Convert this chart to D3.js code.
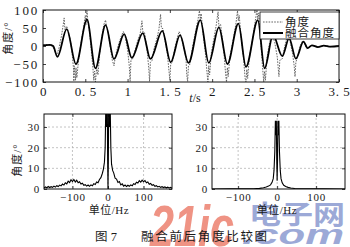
<!DOCTYPE html>
<html>
<head>
<meta charset="utf-8">
<script src="https://cdn.jsdelivr.net/npm/d3@7"></script>
<style>
html, body { margin: 0; padding: 0; background: #fff; }
svg { display: block; }
text { font-family: "Liberation Serif", "Noto Sans CJK SC", serif; fill: #1a1a1a; }
</style>
</head>
<body>
<div id="chart"></div>
<script>
// raw angle (dotted) and fused angle (solid), [t (s), deg]
const fusedAngle = [
    [0, 2], [0.08, 3], [0.12, 0], [0.17, -30], [0.28, 47], [0.39, -50], [0.52, 73],
    [0.62, -62], [0.74, 58], [0.84, -36], [0.96, 33], [1.05, -33], [1.18, 36],
    [1.27, -36], [1.41, 42], [1.51, -45], [1.62, 30], [1.72, -47], [1.86, 72],
    [1.96, -47], [2.08, 52], [2.18, -50], [2.31, 62], [2.40, -58], [2.54, 72],
    [2.62, -62], [2.72, 30], [2.83, -28], [2.91, 22], [2.99, -35], [3.08, 12],
    [3.13, -6], [3.18, 2], [3.25, -3], [3.32, 1], [3.40, -2], [3.50, 0]
];

const rawAngle = [
    [0, 3], [0.05, 4], [0.10, 1], [0.13, -8], [0.16, -28], [0.17, -20], [0.19, -5],
    [0.22, 30], [0.24, 60], [0.25, 78], [0.26, 45], [0.28, 55], [0.30, 40], [0.32, 20],
    [0.34, -10], [0.36, -60], [0.365, -98], [0.37, -55], [0.385, -95], [0.39, -60], [0.40, -88], [0.42, -40],
    [0.45, 10], [0.48, 50], [0.50, 85], [0.51, 60], [0.52, 98], [0.53, 70], [0.55, 40],
    [0.57, -10], [0.59, -60], [0.60, -95], [0.61, -70], [0.62, -100], [0.635, -60], [0.65, -80], [0.67, -20],
    [0.70, 30], [0.72, 60], [0.74, 72], [0.75, 55], [0.77, 40],
    [0.80, -10], [0.82, -40], [0.84, -55], [0.85, -38], [0.87, -15],
    [0.90, 10], [0.93, 30], [0.95, 40], [0.97, 28],
    [1.00, -10], [1.02, -55], [1.03, -98], [1.04, -40], [1.06, -35], [1.09, -10],
    [1.12, 15], [1.15, 35], [1.17, 70], [1.18, 40], [1.20, 38],
    [1.23, -10], [1.25, -60], [1.26, -98], [1.27, -45], [1.29, -40], [1.31, -10],
    [1.34, 15], [1.37, 45], [1.39, 88], [1.40, 50], [1.42, 48], [1.44, 20],
    [1.47, -20], [1.49, -70], [1.50, -95], [1.51, -50], [1.53, -45], [1.56, -5],
    [1.59, 25], [1.61, 40], [1.63, 30], [1.66, 0],
    [1.69, -30], [1.70, -80], [1.71, -98], [1.72, -55], [1.74, -50], [1.77, 0],
    [1.80, 35], [1.83, 70], [1.85, 98], [1.86, 75], [1.87, 90], [1.89, 40],
    [1.92, -20], [1.94, -75], [1.95, -100], [1.96, -55], [1.97, -80], [1.99, -20],
    [2.02, 20], [2.05, 60], [2.07, 95], [2.08, 55], [2.10, 60], [2.12, 20],
    [2.14, -20], [2.16, -80], [2.17, -100], [2.18, -60], [2.19, -85], [2.21, -30],
    [2.25, 20], [2.28, 60], [2.30, 98], [2.31, 70], [2.32, 85], [2.34, 30],
    [2.37, -30], [2.39, -90], [2.40, -100], [2.41, -65], [2.42, -90], [2.44, -30],
    [2.48, 20], [2.51, 70], [2.53, 100], [2.54, 75], [2.55, 92], [2.57, 30],
    [2.59, -40], [2.61, -100], [2.62, -70], [2.63, -95], [2.65, -30],
    [2.68, 10], [2.71, 38], [2.72, 25], [2.74, 10],
    [2.77, -30], [2.79, -85], [2.80, -40], [2.83, -35], [2.85, -10],
    [2.88, 20], [2.90, 28], [2.92, 15],
    [2.95, -20], [2.97, -55], [2.98, -85], [2.99, -45], [3.01, -30],
    [3.04, 0], [3.07, 15], [3.09, 8],
    [3.12, -8], [3.15, -2], [3.18, 2], [3.25, -3], [3.32, 1], [3.40, -2], [3.50, 0]
];

// spectra, [Hz, deg]
const spectrumBefore = [
    [-180, 0.5], [-176, 1.0], [-172, 0.6], [-168, 1.2], [-164, 0.7], [-160, 1.1], [-156, 0.8],
    [-152, 1.4], [-148, 0.9], [-144, 1.6], [-140, 1.2], [-136, 1.9], [-132, 1.5], [-128, 2.4],
    [-124, 1.9], [-120, 3.0], [-116, 2.5], [-112, 3.8], [-108, 3.1], [-104, 4.5], [-100, 3.6],
    [-96, 4.6], [-92, 3.4], [-88, 4.2], [-84, 3.0], [-80, 3.5], [-76, 2.4], [-72, 2.8],
    [-68, 1.8], [-64, 2.1], [-60, 1.4], [-56, 1.9], [-52, 1.3], [-48, 2.0], [-44, 1.6],
    [-40, 2.6], [-36, 2.2], [-32, 3.4], [-28, 3.0], [-24, 4.6], [-20, 5.5], [-16, 7.5],
    [-13, 9.5], [-10, 13], [-8, 20], [-6, 42], [-4, 30], [-2, 42], [-1, 14], [0, 0],
    [1, 14], [2, 42], [4, 30], [6, 42], [8, 20], [10, 12], [13, 9], [16, 7.8], [20, 5.2],
    [24, 4.8], [28, 3.2], [32, 3.6], [36, 2.0], [40, 2.5], [44, 1.4], [48, 1.9], [52, 1.2],
    [56, 1.8], [60, 1.3], [64, 2.0], [68, 1.6], [72, 2.6], [76, 2.2], [80, 3.3], [84, 2.9],
    [88, 4.0], [92, 3.3], [96, 4.3], [100, 3.5], [104, 4.1], [108, 3.0], [112, 3.4],
    [116, 2.3], [120, 2.7], [124, 1.8], [128, 2.1], [132, 1.3], [136, 1.6], [140, 1.0],
    [144, 1.3], [148, 0.8], [152, 1.1], [156, 0.7], [160, 1.0], [164, 0.6], [168, 0.9],
    [172, 0.5], [176, 0.8], [180, 0.4]
];

const spectrumAfter = [
    [-167, 0], [-120, 0.05], [-80, 0.1], [-60, 0.15], [-45, 0.3], [-35, 0.6], [-28, 1.0],
    [-22, 1.4], [-17, 2.0], [-13, 3.2], [-10, 5], [-8, 9], [-6, 18], [-4.5, 33], [-3, 26],
    [-2, 33], [-1, 14], [0, 4], [1, 14], [2, 33], [3, 26], [4.5, 33], [6, 18], [8, 9],
    [10, 5], [13, 3.0], [17, 1.8], [22, 1.2], [28, 0.8], [35, 0.5], [45, 0.25], [60, 0.1],
    [80, 0.08], [120, 0.04], [174, 0]
];

const topXTicks = [0, 0.5, 1, 1.5, 2, 2.5, 3, 3.5];
const topXTickLabels = ['0', '0. 5', '1', '1. 5', '2', '2. 5', '3', '3. 5'];
const topYTicks = [-100, -50, 0, 50, 100];
const specXTicks = [-100, 0, 100];
const specYTicks = [0, 10, 20, 30];
const legendLabels = ['角度', '融合角度'];

const width = 350, height = 247;

const svg = d3.select('#chart')
    .append('svg')
    .attr('width', width)
    .attr('height', height);

// site watermark, sits under everything else
const wm = svg.append('g').attr('opacity', 0.72);
wm.append('text')
    .attr('x', 150).attr('y', 246)
    .attr('textLength', 84).attr('lengthAdjust', 'spacingAndGlyphs')
    .style('font-family', '"Liberation Sans", Arial, sans-serif')
    .style('font-weight', 'bold')
    .style('font-style', 'italic')
    .style('font-size', '58px')
    .style('fill', '#ea6a56')
    .text('21ic');
wm.append('text')
    .attr('x', 249).attr('y', 224)
    .attr('textLength', 96).attr('lengthAdjust', 'spacingAndGlyphs')
    .style('font-family', '"Noto Sans CJK SC", sans-serif')
    .style('font-weight', 'bold')
    .style('font-size', '26px')
    .style('fill', '#7788c8')
    .text('电子网');
wm.append('text')
    .attr('x', 242).attr('y', 244)
    .attr('textLength', 102).attr('lengthAdjust', 'spacingAndGlyphs')
    .style('font-family', '"Liberation Sans", Arial, sans-serif')
    .style('font-weight', 'bold')
    .style('font-style', 'italic')
    .style('font-size', '28px')
    .style('fill', '#7788c8')
    .text('.com');

// frame + inward ticks on all four sides, MATLAB style
function drawAxes(x, y, xTicks, yTicks, opts) {
    const [xa, xb] = x.range();
    const [yb, ya] = y.range();
    const g = svg.append('g');

    if (opts.grid) {
        g.append('g').selectAll('line')
            .data(xTicks)
            .enter().append('line')
            .attr('x1', d => x(d)).attr('x2', d => x(d))
            .attr('y1', ya).attr('y2', yb)
            .attr('stroke', '#aaa').attr('stroke-width', 0.7)
            .attr('stroke-dasharray', '2,2');
        g.append('g').selectAll('line')
            .data(yTicks.filter(d => d !== y.domain()[0]))
            .enter().append('line')
            .attr('x1', xa).attr('x2', xb)
            .attr('y1', d => y(d)).attr('y2', d => y(d))
            .attr('stroke', '#aaa').attr('stroke-width', 0.7)
            .attr('stroke-dasharray', '2,2');
    }

    const bottom = g.append('g')
        .attr('transform', `translate(0,${yb})`)
        .call(d3.axisBottom(x).tickValues(xTicks)
            .tickFormat(opts.xFormat || (d => String(d).replace('-', '−')))
            .tickSizeInner(-3).tickSizeOuter(0).tickPadding(opts.xPad));
    const topAx = g.append('g')
        .attr('transform', `translate(0,${ya})`)
        .call(d3.axisTop(x).tickValues(xTicks).tickFormat('')
            .tickSizeInner(-3).tickSizeOuter(0));
    const left = g.append('g')
        .attr('transform', `translate(${xa},0)`)
        .call(d3.axisLeft(y).tickValues(yTicks)
            .tickFormat(d => String(d).replace('-', '−'))
            .tickSizeInner(-3).tickSizeOuter(0).tickPadding(opts.yPad));
    const right = g.append('g')
        .attr('transform', `translate(${xb},0)`)
        .call(d3.axisRight(y).tickValues(yTicks).tickFormat('')
            .tickSizeInner(-3).tickSizeOuter(0));

    [bottom, topAx, left, right].forEach(a => {
        a.select('.domain').remove();
        a.selectAll('line').attr('stroke', '#111').attr('stroke-width', 0.8);
        a.attr('font-family', null).attr('font-size', null);
        a.selectAll('text')
            .attr('fill', '#1a1a1a')
            .style('font-size', opts.fontSize + 'px');
    });
    bottom.selectAll('text').style('letter-spacing', opts.xSpacing + 'px');
    left.selectAll('text').style('letter-spacing', opts.ySpacing + 'px');

    g.append('rect')
        .attr('x', xa).attr('y', ya)
        .attr('width', xb - xa).attr('height', yb - ya)
        .attr('fill', 'none').attr('stroke', '#111').attr('stroke-width', 1);
}

function clipFor(id, x, y) {
    const [xa, xb] = x.range();
    const [yb, ya] = y.range();
    svg.append('clipPath').attr('id', id)
        .append('rect')
        .attr('x', xa).attr('y', ya)
        .attr('width', xb - xa).attr('height', yb - ya);
    return `url(#${id})`;
}

// ---- top: angle vs time
const xT = d3.scaleLinear().domain([0, 3.5]).range([43, 339]);
const yT = d3.scaleLinear().domain([-100, 100]).range([82, 10]);
const topClip = clipFor('clip-top', xT, yT);

svg.append('path')
    .datum(rawAngle)
    .attr('clip-path', topClip)
    .attr('fill', 'none')
    .attr('stroke', '#555')
    .attr('stroke-width', 0.9)
    .attr('stroke-dasharray', '1.6,1.2')
    .attr('d', d3.line().x(d => xT(d[0])).y(d => yT(d[1])));

svg.append('path')
    .datum(fusedAngle)
    .attr('clip-path', topClip)
    .attr('fill', 'none')
    .attr('stroke', '#000')
    .attr('stroke-width', 1.8)
    .attr('d', d3.line().curve(d3.curveMonotoneX).x(d => xT(d[0])).y(d => yT(d[1])));

drawAxes(xT, yT, topXTicks, topYTicks, {
    xFormat: (d, i) => topXTickLabels[i], xPad: 5, yPad: 4,
    fontSize: 13, xSpacing: 0.6, ySpacing: 1.8
});

svg.append('text')
    .attr('transform', 'translate(12,38) rotate(-90)')
    .attr('text-anchor', 'middle')
    .style('font-size', '11px')
    .style('letter-spacing', '1px')
    .attr('fill', '#444')
    .text('角度/°');

const tLabel = svg.append('text')
    .attr('x', 195).attr('y', 102)
    .attr('text-anchor', 'middle')
    .style('font-size', '12px');
tLabel.append('tspan').style('font-style', 'italic').text('t');
tLabel.append('tspan').text('/s');

// legend
const legend = svg.append('g');
legend.append('rect')
    .attr('x', 260).attr('y', 12).attr('width', 79).attr('height', 27)
    .attr('fill', '#fff').attr('stroke', '#111').attr('stroke-width', 0.8);
legendLabels.forEach((label, i) => {
    const ly = 22 + i * 11;
    legend.append('line')
        .attr('x1', 263).attr('x2', 283).attr('y1', ly).attr('y2', ly)
        .attr('stroke', i === 0 ? '#555' : '#000')
        .attr('stroke-width', i === 0 ? 0.9 : 2)
        .attr('stroke-dasharray', i === 0 ? '1.6,1.2' : null);
    legend.append('text')
        .attr('x', 285).attr('y', ly + 4)
        .style('font-size', '11.5px')
        .style('letter-spacing', '1px')
        .text(label);
});

// ---- bottom: spectra
const yS = d3.scaleLinear().domain([0, 36.3]).range([189, 114]);
const xL = d3.scaleLinear().domain([-180, 180]).range([44, 172]);
const xR = d3.scaleLinear().domain([-167, 174]).range([212, 345]);

const specOpts = { xPad: 4, yPad: 4, fontSize: 11, xSpacing: 0.8, ySpacing: 0.8, grid: true };
drawAxes(xL, yS, specXTicks, specYTicks, specOpts);
drawAxes(xR, yS, specXTicks, specYTicks, specOpts);

svg.append('path')
    .datum(spectrumBefore)
    .attr('clip-path', clipFor('clip-l', xL, yS))
    .attr('fill', 'none')
    .attr('stroke', '#000')
    .attr('stroke-width', 1.1)
    .attr('d', d3.line().x(d => xL(d[0])).y(d => yS(d[1])));

svg.append('path')
    .datum(spectrumAfter)
    .attr('clip-path', clipFor('clip-r', xR, yS))
    .attr('fill', 'none')
    .attr('stroke', '#000')
    .attr('stroke-width', 1.1)
    .attr('d', d3.line().x(d => xR(d[0])).y(d => yS(d[1])));

svg.append('text')
    .attr('transform', 'translate(21,160) rotate(-90)')
    .attr('text-anchor', 'middle')
    .style('font-size', '11px')
    .style('letter-spacing', '1px')
    .attr('fill', '#444')
    .text('角度/°');

[109, 277].forEach(cx => {
    svg.append('text')
        .attr('x', cx).attr('y', 214)
        .attr('text-anchor', 'middle')
        .style('font-size', '11px')
        .style('letter-spacing', '0.5px')
        .text('单位/Hz');
});

// caption
svg.append('text')
    .attr('x', 95).attr('y', 241)
    .style('font-size', '12.5px')
    .text('图 7');
svg.append('text')
    .attr('x', 141).attr('y', 241)
    .style('font-size', '12.5px')
    .style('letter-spacing', '1.7px')
    .text('融合前后角度比较图');
</script>
</body>
</html>
